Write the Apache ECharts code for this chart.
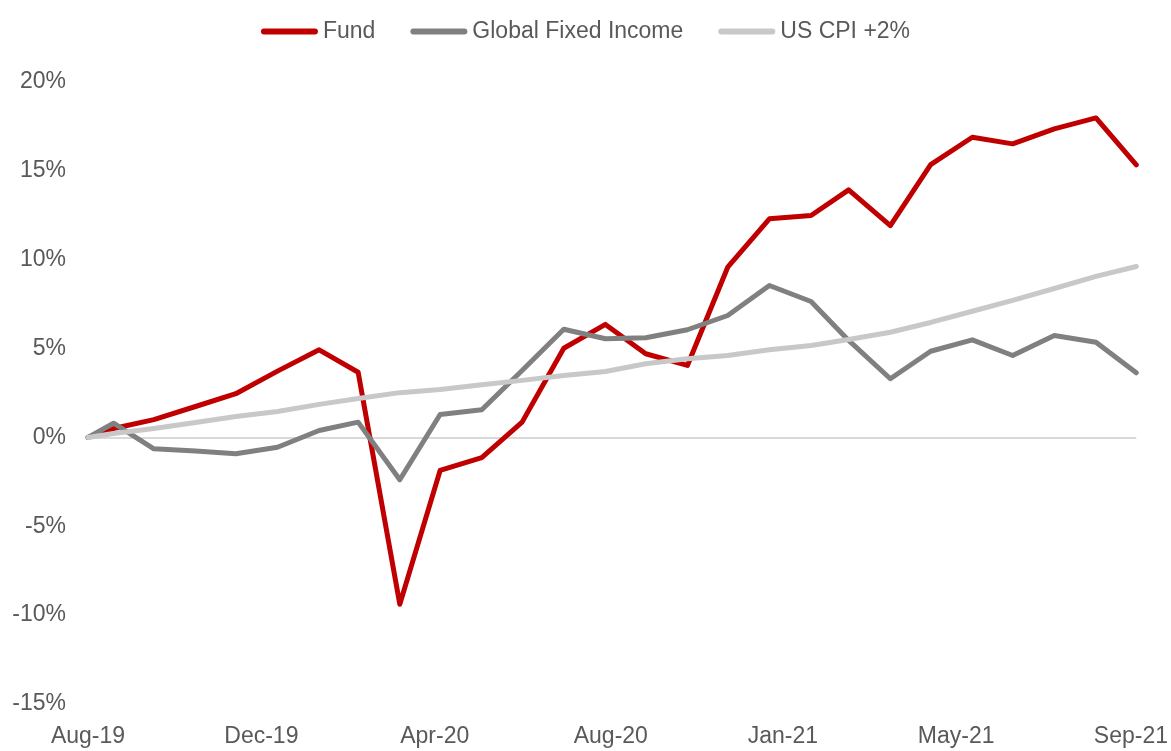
<!DOCTYPE html>
<html>
<head>
<meta charset="utf-8">
<script src="https://cdn.jsdelivr.net/npm/echarts@6/dist/echarts.min.js"></script>
<style>
  html, body { margin: 0; padding: 0; background: #fff; }
  #chart { width: 1171px; height: 751px; }
</style>
</head>
<body>
<div id="chart"></div>
<script>
// Cumulative return (%) since inception, month-end points.
const dates = [
  '2019-08-12', '2019-08-31', '2019-09-30', '2019-10-31', '2019-11-30', '2019-12-31',
  '2020-01-31', '2020-02-29', '2020-03-31', '2020-04-30', '2020-05-31', '2020-06-30',
  '2020-07-31', '2020-08-31', '2020-09-30', '2020-10-31', '2020-11-30', '2020-12-31',
  '2021-01-31', '2021-02-28', '2021-03-31', '2021-04-30', '2021-05-31', '2021-06-30',
  '2021-07-31', '2021-08-31', '2021-09-30'
]
const fund = [
  0, 0.5, 1.0, 1.74, 2.46, 3.73, 4.93, 3.67, -9.39, -1.86, -1.14, 0.86, 5.02, 6.36,
  4.71, 4.05, 9.58, 12.3, 12.49, 13.93, 11.92, 15.35, 16.89, 16.52, 17.36, 17.98, 15.34
]
const globalFixedIncome = [
  0, 0.8, -0.64, -0.77, -0.92, -0.55, 0.39, 0.86, -2.38, 1.29, 1.56, 3.77, 6.09, 5.55,
  5.61, 6.06, 6.86, 8.55, 7.65, 5.46, 3.3, 4.85, 5.49, 4.61, 5.74, 5.36, 3.64
]
const usCpiPlus2 = [
  0, 0.22, 0.5, 0.84, 1.18, 1.46, 1.86, 2.19, 2.52, 2.7, 2.96, 3.21, 3.49, 3.71,
  4.15, 4.43, 4.61, 4.93, 5.17, 5.51, 5.92, 6.47, 7.1, 7.71, 8.38, 9.06, 9.62
]

// x-axis labels sit at fixed day steps, not on month starts
const tickDates = ['2019-08-12', '2019-12-19', '2020-04-26', '2020-09-04', '2021-01-10', '2021-05-19', '2021-09-26']
const tickLabels = ['Aug-19', 'Dec-19', 'Apr-20', 'Aug-20', 'Jan-21', 'May-21', 'Sep-21']

const seriesNames = ['Fund', 'Global Fixed Income', 'US CPI +2%']
const seriesColors = ['#c00000', '#808080', '#c8c8c8']

// day number of a yyyy-mm-dd string (x axis is a plain value axis in days)
const dayOf = (d) => Date.UTC(+d.slice(0, 4), +d.slice(5, 7) - 1, +d.slice(8, 10)) / 86400000
const tickDays = tickDates.map(dayOf)
const pairs = (vals) => dates.map((d, i) => [dayOf(d), vals[i]])

const textColor = '#595959'
const font = 'Liberation Sans, Arial, sans-serif'

const chart = echarts.init(document.getElementById('chart'))

chart.setOption({
  backgroundColor: '#fff',
  animation: false,
  textStyle: { fontFamily: font },
  legend: {
    data: seriesNames,
    left: 'center',
    top: 15,
    icon: 'path://M3,0 H54 A3,3 0 0 1 54,6 H3 A3,3 0 0 1 3,0 Z',
    itemWidth: 57,
    itemHeight: 6,
    itemGap: 35,
    textStyle: { color: textColor, fontSize: 23, fontFamily: font }
  },
  grid: { left: 88, right: 33, top: 82, bottom: 47, containLabel: false },
  xAxis: {
    type: 'value',
    min: dayOf(dates[0]),
    max: dayOf(dates[dates.length - 1]),
    axisLine: { show: false },
    axisTick: { show: false },
    splitLine: { show: false },
    axisLabel: {
      customValues: tickDays,
      showMinLabel: true,
      showMaxLabel: true,
      margin: 21,
      color: textColor,
      fontSize: 23,
      fontFamily: font,
      formatter: (v) => {
        let best = 0
        tickDays.forEach((t, i) => { if (Math.abs(t - v) < Math.abs(tickDays[best] - v)) best = i })
        return tickLabels[best]
      }
    }
  },
  yAxis: {
    type: 'value',
    min: -15,
    max: 20,
    interval: 5,
    axisLine: { show: false },
    axisTick: { show: false },
    axisLabel: {
      margin: 22,
      color: textColor,
      fontSize: 23,
      fontFamily: font,
      formatter: '{value}%'
    },
    // only the 0% line is drawn
    splitLine: {
      lineStyle: {
        width: 2,
        color: ['transparent', 'transparent', 'transparent', '#d9d9d9',
                'transparent', 'transparent', 'transparent', 'transparent']
      }
    }
  },
  series: [fund, globalFixedIncome, usCpiPlus2].map((vals, i) => ({
    name: seriesNames[i],
    type: 'line',
    data: pairs(vals),
    symbol: 'none',
    color: seriesColors[i],
    lineStyle: { width: 5, color: seriesColors[i], cap: 'round', join: 'round' }
  }))
})
</script>
</body>
</html>
